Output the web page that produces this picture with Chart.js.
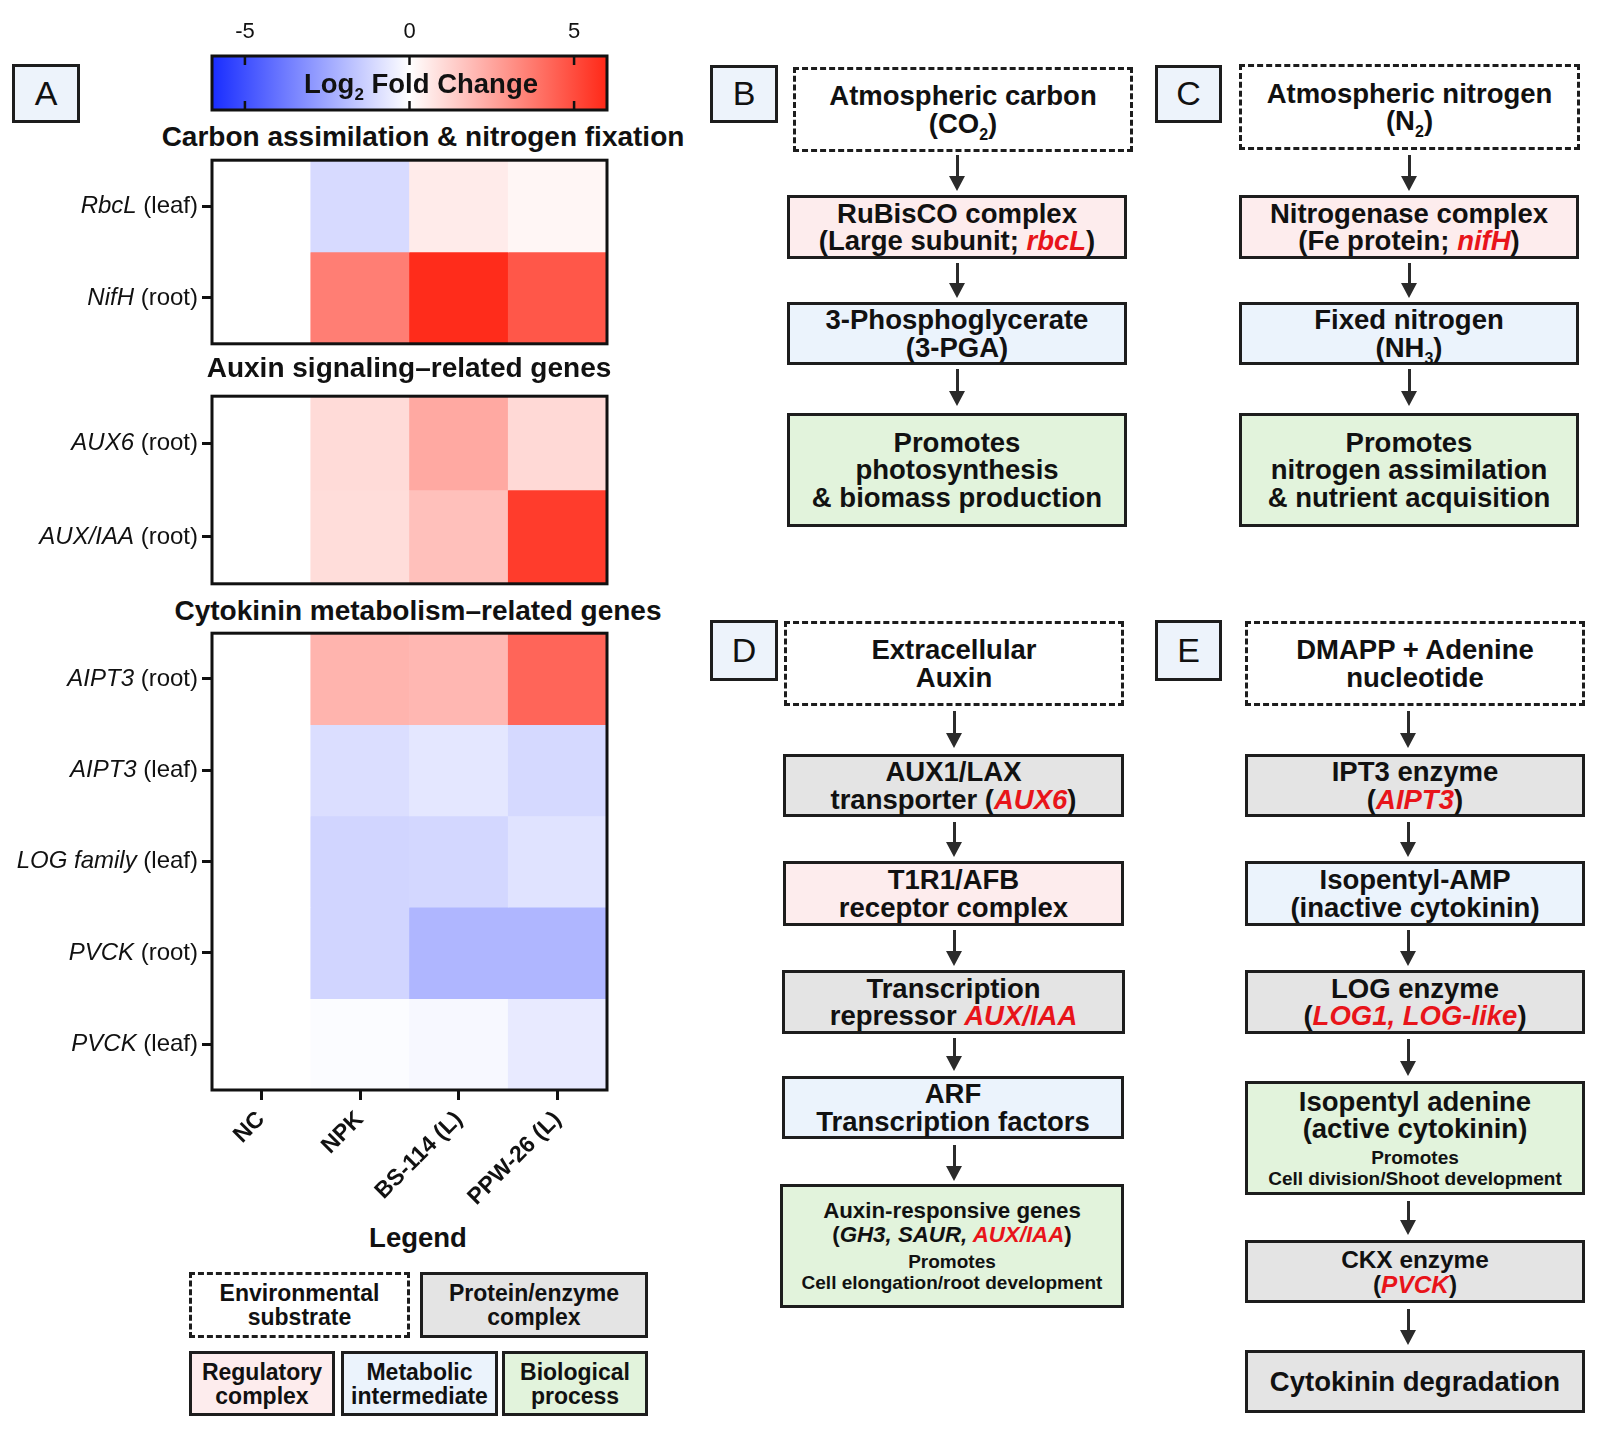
<!DOCTYPE html>
<html>
<head>
<meta charset="utf-8">
<script src="https://cdn.jsdelivr.net/npm/chart.js@4.4.0/dist/chart.umd.min.js"></script>
<style>
body { margin: 0; width: 1600px; height: 1431px; position: relative; background: #fff; overflow: hidden;
  font-family: "Liberation Sans", Arial, sans-serif; color: #111; }
canvas { position: absolute; left: 0; }
.box { position: absolute; box-sizing: border-box; border: 3px solid #1d1d1d; display: flex; flex-direction: column;
  justify-content: center; align-items: center; text-align: center; font-weight: bold; font-size: 27.5px; line-height: 27.5px; }
.dash { border-style: dashed; background: #fff; }
.prot { background: #e4e4e4; }
.reg { background: #fdeced; }
.met { background: #ebf3fc; }
.bio { background: #e2f3dc; }
.lab { font-weight: normal; font-size: 34px; background: #edf3fb; }
.red { color: #e8141a; font-style: italic; }
.it { font-style: italic; }
.mid { font-size: 22.3px; line-height: 24px; }
.small { font-size: 19px; line-height: 21px; margin-top: 4px; }
.leg { font-size: 23px; line-height: 24px; }
sub { font-size: 16px; line-height: 0; }
.title { position: absolute; width: 700px; text-align: center; font-weight: bold; font-size: 28px; line-height: 30px; }
.aline { position: absolute; width: 3px; background: #2b2b2b; }
.ahead { position: absolute; width: 0; height: 0; border-left: 8px solid transparent; border-right: 8px solid transparent; border-top: 15px solid #2b2b2b; }
</style>
</head>
<body>

<canvas id="bar" width="620" height="115" style="top:0"></canvas>
<div class="title" style="left:71px;top:69px;font-size:27.5px">Log<sub style="font-size:17px">2</sub> Fold Change</div>
<div class="title" style="left:73px;top:122px">Carbon assimilation &amp; nitrogen fixation</div>
<canvas id="hm1" width="620" height="204" style="top:150px"></canvas>
<div class="title" style="left:59px;top:353px">Auxin signaling–related genes</div>
<canvas id="hm2" width="620" height="208" style="top:386px"></canvas>
<div class="title" style="left:68px;top:596px">Cytokinin metabolism–related genes</div>
<canvas id="hm3" width="620" height="592" style="top:623px"></canvas>

<div class="box lab" style="left:12px;top:64px;width:68px;height:59px">A</div>
<div class="title" style="left:68px;top:1223px;font-size:27.5px">Legend</div>
<div class="box dash leg" style="left:189px;top:1272px;width:221px;height:66px">Environmental<br>substrate</div>
<div class="box prot leg" style="left:420px;top:1272px;width:228px;height:66px">Protein/enzyme<br>complex</div>
<div class="box reg leg" style="left:189px;top:1351px;width:146px;height:65px">Regulatory<br>complex</div>
<div class="box met leg" style="left:341px;top:1351px;width:157px;height:65px">Metabolic<br>intermediate</div>
<div class="box bio leg" style="left:502px;top:1351px;width:146px;height:65px">Biological<br>process</div>

<!-- B -->
<div class="box lab" style="left:710px;top:65px;width:68px;height:58px">B</div>
<div class="box dash" style="left:793px;top:67px;width:340px;height:85px">Atmospheric carbon<br><span>(CO<sub>2</sub>)</span></div>
<div class="box reg" style="left:787px;top:195px;width:340px;height:64px">RuBisCO complex<br><span>(Large subunit; <span class="red">rbcL</span>)</span></div>
<div class="box met" style="left:787px;top:302px;width:340px;height:63px">3-Phosphoglycerate<br>(3-PGA)</div>
<div class="box bio" style="left:787px;top:413px;width:340px;height:114px">Promotes<br>photosynthesis<br>&amp; biomass production</div>

<!-- C -->
<div class="box lab" style="left:1155px;top:65px;width:67px;height:58px">C</div>
<div class="box dash" style="left:1239px;top:64px;width:341px;height:86px">Atmospheric nitrogen<br><span>(N<sub>2</sub>)</span></div>
<div class="box reg" style="left:1239px;top:195px;width:340px;height:64px">Nitrogenase complex<br><span>(Fe protein; <span class="red">nifH</span>)</span></div>
<div class="box met" style="left:1239px;top:302px;width:340px;height:63px">Fixed nitrogen<br><span>(NH<sub>3</sub>)</span></div>
<div class="box bio" style="left:1239px;top:413px;width:340px;height:114px">Promotes<br>nitrogen assimilation<br>&amp; nutrient acquisition</div>

<!-- D -->
<div class="box lab" style="left:710px;top:620px;width:68px;height:61px">D</div>
<div class="box dash" style="left:784px;top:621px;width:340px;height:85px">Extracellular<br>Auxin</div>
<div class="box prot" style="left:783px;top:754px;width:341px;height:63px">AUX1/LAX<br><span>transporter (<span class="red">AUX6</span>)</span></div>
<div class="box reg" style="left:783px;top:861px;width:341px;height:65px">T1R1/AFB<br>receptor complex</div>
<div class="box prot" style="left:782px;top:970px;width:343px;height:64px">Transcription<br><span>repressor <span class="red">AUX/IAA</span></span></div>
<div class="box met" style="left:782px;top:1076px;width:342px;height:63px">ARF<br>Transcription factors</div>
<div class="box bio" style="left:780px;top:1184px;width:344px;height:124px">
  <div class="mid">Auxin-responsive genes<br>(<span class="it">GH3, SAUR, </span><span class="red">AUX/IAA</span>)</div>
  <div class="small">Promotes<br>Cell elongation/root development</div>
</div>

<!-- E -->
<div class="box lab" style="left:1155px;top:620px;width:67px;height:61px">E</div>
<div class="box dash" style="left:1245px;top:621px;width:340px;height:85px">DMAPP + Adenine<br>nucleotide</div>
<div class="box prot" style="left:1245px;top:754px;width:340px;height:63px">IPT3 enzyme<br><span>(<span class="red">AIPT3</span>)</span></div>
<div class="box met" style="left:1245px;top:861px;width:340px;height:65px">Isopentyl-AMP<br>(inactive cytokinin)</div>
<div class="box prot" style="left:1245px;top:970px;width:340px;height:64px">LOG enzyme<br><span>(<span class="red">LOG1, LOG-like</span>)</span></div>
<div class="box bio" style="left:1245px;top:1081px;width:340px;height:114px">
  <div>Isopentyl adenine<br>(active cytokinin)</div>
  <div class="small">Promotes<br>Cell division/Shoot development</div>
</div>
<div class="box prot" style="left:1245px;top:1240px;width:340px;height:63px;font-size:24.4px;line-height:25px">CKX enzyme<br><span>(<span class="red">PVCK</span>)</span></div>
<div class="box prot" style="left:1245px;top:1350px;width:340px;height:63px">Cytokinin degradation</div>

<script>
// treatments (columns of every heatmap)
const columns = ['NC', 'NPK', 'BS-114 (L)', 'PPW-26 (L)']

// log2 fold change, one row per gene, columns as above
const carbonGenes = ['RbcL', 'NifH']
const carbonTissue = ['leaf', 'root']
const carbonValues = [
   [0, -1.05, 0.55, 0.25],
   [0, 3.6, 5.9, 4.7]
]

const auxinGenes = ['AUX6', 'AUX/IAA']
const auxinTissue = ['root', 'root']
const auxinValues = [
   [0, 1.0, 2.4, 1.05],
   [0, 0.95, 1.75, 5.45]
]

const cytoGenes = ['AIPT3', 'AIPT3', 'LOG family', 'PVCK', 'PVCK']
const cytoTissue = ['root', 'leaf', 'leaf', 'root', 'leaf']
const cytoValues = [
   [0, 2.1, 2.0, 4.3],
   [0, -0.95, -0.7, -1.1],
   [0, -1.2, -1.15, -0.8],
   [0, -1.2, -2.1, -2.1],
   [0, -0.1, -0.2, -0.6]
]

const scaleMin = -6
const scaleMax = 6
const scaleTicks = [-5, 0, 5]

const FONT = '"Liberation Sans", Arial, sans-serif'
const INK = '#111'

function fcColor(v) {
   const t = Math.min(Math.abs(v) / scaleMax, 1)
   if (v < 0) {
      return `rgb(${Math.round(255 - 230 * t)},${Math.round(255 - 210 * t)},255)`
   }
   return `rgb(255,${Math.round(255 - 215 * t)},${Math.round(255 - 232 * t)})`
}

// frame + mixed italic row labels
const heatPlugin = {
   id: 'heatFrame',
   afterDraw(chart, args, opts) {
      const ctx = chart.ctx
      const a = chart.chartArea
      const y = chart.scales.y
      ctx.save()
      ctx.lineWidth = 3
      ctx.strokeStyle = INK
      ctx.strokeRect(a.left, a.top, a.right - a.left, a.bottom - a.top)

      ctx.fillStyle = INK
      ctx.textBaseline = 'middle'
      ctx.textAlign = 'right'
      opts.genes.forEach((g, i) => {
         const py = y.getPixelForValue(i)
         const x = a.left - 14
         ctx.font = `24px ${FONT}`
         const tail = ` (${opts.tissue[i]})`
         ctx.fillText(tail, x, py)
         const w = ctx.measureText(tail).width
         ctx.font = `italic 24px ${FONT}`
         ctx.fillText(g, x - w, py)
      })
      ctx.restore()
   }
}

function drawHeatmap(id, genes, tissue, values, showX) {
   const datasets = values.map((row, r) => ({
      data: row.map(() => [r - 0.5, r + 0.5]),
      backgroundColor: row.map(v => fcColor(v)),
      borderWidth: 0,
      barPercentage: 1,
      categoryPercentage: 1,
      grouped: false
   }))

   new Chart(document.getElementById(id), {
      type: 'bar',
      data: { labels: columns, datasets },
      options: {
         responsive: false,
         animation: false,
         layout: { padding: { top: 10, right: 13, bottom: showX ? 0 : 10, left: 0 } },
         plugins: {
            legend: { display: false },
            tooltip: { enabled: false },
            heatFrame: { genes, tissue }
         },
         scales: {
            x: {
               display: showX,
               grid: { offset: false, drawOnChartArea: false, tickLength: 10, lineWidth: 3, color: INK },
               border: { display: false },
               ticks: {
                  color: INK, autoSkip: false, maxRotation: 45, minRotation: 45, padding: 6,
                  font: { family: FONT, size: 23, weight: 'bold' }
               },
               afterFit: s => { if (showX) s.height = 125 }
            },
            y: {
               min: -0.5,
               max: genes.length - 0.5,
               reverse: true,
               afterBuildTicks: s => { s.ticks = genes.map((g, i) => ({ value: i })) },
               ticks: { callback: () => '' },
               grid: { drawOnChartArea: false, tickLength: 10, lineWidth: 3, color: INK },
               border: { display: false },
               afterFit: s => { s.width = 212 }
            }
         }
      },
      plugins: [heatPlugin]
   })
}

// colour bar
const barPlugin = {
   id: 'colorBar',
   beforeDatasetsDraw(chart) {
      const ctx = chart.ctx
      const a = chart.chartArea
      const x = chart.scales.x
      const grad = ctx.createLinearGradient(a.left, 0, a.right, 0)
      for (let v = scaleMin; v <= scaleMax; v += 1) {
         grad.addColorStop((v - scaleMin) / (scaleMax - scaleMin), fcColor(v))
      }
      ctx.save()
      ctx.fillStyle = grad
      ctx.fillRect(a.left, a.top, a.right - a.left, a.bottom - a.top)
      ctx.lineWidth = 3
      ctx.strokeStyle = INK
      ctx.strokeRect(a.left, a.top, a.right - a.left, a.bottom - a.top)
      ctx.lineWidth = 2.5
      scaleTicks.forEach(t => {
         const px = x.getPixelForValue(t)
         ctx.beginPath()
         ctx.moveTo(px, a.top)
         ctx.lineTo(px, a.top + 9)
         ctx.moveTo(px, a.bottom)
         ctx.lineTo(px, a.bottom - 9)
         ctx.stroke()
      })
      ctx.restore()
   }
}

new Chart(document.getElementById('bar'), {
   type: 'scatter',
   data: { datasets: [{ data: [] }] },
   options: {
      responsive: false,
      animation: false,
      layout: { padding: { top: 0, right: 13, bottom: 5, left: 212 } },
      plugins: { legend: { display: false }, tooltip: { enabled: false } },
      scales: {
         x: {
            type: 'linear',
            position: 'top',
            min: scaleMin,
            max: scaleMax,
            afterBuildTicks: s => { s.ticks = scaleTicks.map(v => ({ value: v })) },
            ticks: { color: INK, padding: 3, font: { family: FONT, size: 22 } },
            grid: { display: false },
            border: { display: false },
            afterFit: s => { s.height = 56 }
         },
         y: { display: false, min: 0, max: 1 }
      }
   },
   plugins: [barPlugin]
})

drawHeatmap('hm1', carbonGenes, carbonTissue, carbonValues, false)
drawHeatmap('hm2', auxinGenes, auxinTissue, auxinValues, false)
drawHeatmap('hm3', cytoGenes, cytoTissue, cytoValues, true)

// arrows of the flow panels
function arrow(x, y1, y2) {
   const line = document.createElement('div')
   line.className = 'aline'
   line.style.left = (x - 1.5) + 'px'
   line.style.top = y1 + 'px'
   line.style.height = (y2 - y1 - 12) + 'px'
   document.body.appendChild(line)
   const head = document.createElement('div')
   head.className = 'ahead'
   head.style.left = (x - 8) + 'px'
   head.style.top = (y2 - 15) + 'px'
   document.body.appendChild(head)
}

;[[155, 191], [263, 298], [369, 406]].forEach(([a, b]) => {
   arrow(957, a, b)
   arrow(1409, a, b)
})
;[[711, 748], [822, 857], [930, 966], [1038, 1071], [1145, 1181]].forEach(([a, b]) => arrow(954, a, b))
;[[711, 748], [822, 857], [930, 966], [1039, 1076], [1201, 1235], [1309, 1345]].forEach(([a, b]) => arrow(1408, a, b))
</script>
</body>
</html>
